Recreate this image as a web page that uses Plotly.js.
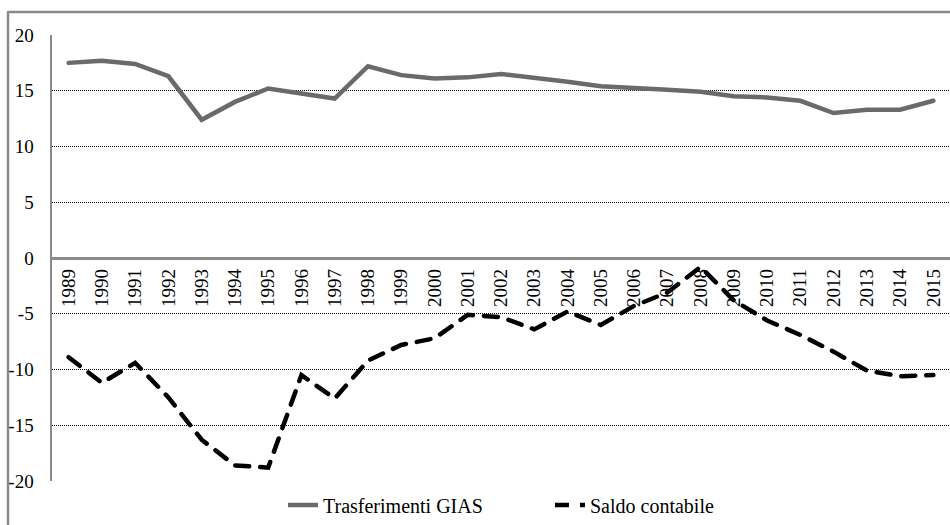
<!DOCTYPE html>
<html>
<head>
<meta charset="utf-8">
<script src="https://cdn.plot.ly/plotly-3.0.1.min.js"></script>
<style>
body{margin:0;padding:0;background:#fff;}
#wrap{position:relative;width:950px;height:525px;overflow:hidden;}
#chart{width:950px;height:525px;}
#frame{position:absolute;left:7px;top:11px;width:960px;height:540px;border-left:2.5px solid #8a8a8a;border-top:2.5px solid #8a8a8a;pointer-events:none;box-sizing:border-box;z-index:5;}
.scatterlayer path.js-line{stroke-linecap:round;}
</style>
</head>
<body>
<div id="wrap">
<div id="chart"></div>
<div id="frame"></div>
</div>
<script>
var years = ['1989','1990','1991','1992','1993','1994','1995','1996','1997','1998','1999','2000','2001','2002','2003','2004','2005','2006','2007','2008','2009','2010','2011','2012','2013','2014','2015'];
var trasferimentiGIAS = [17.5,17.7,17.4,16.3,12.4,14.0,15.2,14.8,14.3,17.2,16.4,16.1,16.2,16.5,16.2,15.8,15.4,15.3,15.1,14.9,14.5,14.4,14.1,13.0,13.3,13.3,14.1];
var saldoContabile = [-8.9,-11.2,-9.4,-12.5,-16.3,-18.6,-18.8,-10.5,-12.6,-9.2,-7.8,-7.2,-5.1,-5.3,-6.4,-4.8,-6.0,-4.3,-3.1,-0.8,-3.8,-5.6,-6.9,-8.4,-10.1,-10.6,-10.5];
var yTicks = [-20,-15,-10,-5,0,5,10,15,20];

var L=52, R=950, T=35, B=481;
function px(x){return (x-L)/(R-L);}
function py(y){return (B-y)/(B-T);}
var serif = 'Liberation Serif, serif';

var traces = [
  {x: years, y: trasferimentiGIAS, type:'scatter', mode:'lines', name:'Trasferimenti GIAS',
   line:{color:'#6a6a6a', width:4.5}},
  {x: years, y: saldoContabile, type:'scatter', mode:'lines', name:'Saldo contabile',
   line:{color:'#000000', width:4.5, dash:'14px,11px'}}
];

var layout = {
  width:950, height:525,
  margin:{l:L, r:0, t:T, b:525-B, pad:0},
  font:{family:serif, color:'#000', size:19},
  showlegend:true,
  legend:{orientation:'h', x:px(283), xanchor:'left', y:py(505), yanchor:'middle',
    font:{family:serif, size:20, color:'#000'}, entrywidth:222, entrywidthmode:'pixels', bgcolor:'rgba(0,0,0,0)', traceorder:'normal'},
  xaxis:{type:'category', range:[-0.5,26.5], anchor:'free', position:0.5,
    showline:true, linecolor:'#8a8a8a', linewidth:2.5, showgrid:false, zeroline:false,
    ticks:'', tickangle:-90, ticklabelstandoff:2, tickfont:{family:serif, size:19, color:'#000'}},
  yaxis:{range:[-20,20], tickvals:yTicks, ticktext:yTicks.map(String), showline:true, linecolor:'#8a8a8a', linewidth:2.5,
    showgrid:true, gridcolor:'#000000', griddash:'1px,1px', gridwidth:1, zeroline:false,
    ticks:'', ticklabelstandoff:12, tickfont:{family:serif, size:19, color:'#000'}},
  shapes:[
    {type:'line', xref:'paper', yref:'paper', x0:px(8), x1:px(8), y0:py(12), y1:py(530),
     line:{color:'#8a8a8a', width:2.5}},
    {type:'line', xref:'paper', yref:'paper', x0:px(8), x1:px(955), y0:py(12), y1:py(12),
     line:{color:'#8a8a8a', width:2.5}}
  ]
};

Plotly.newPlot('chart', traces, layout, {staticPlot:true});
</script>
</body>
</html>
